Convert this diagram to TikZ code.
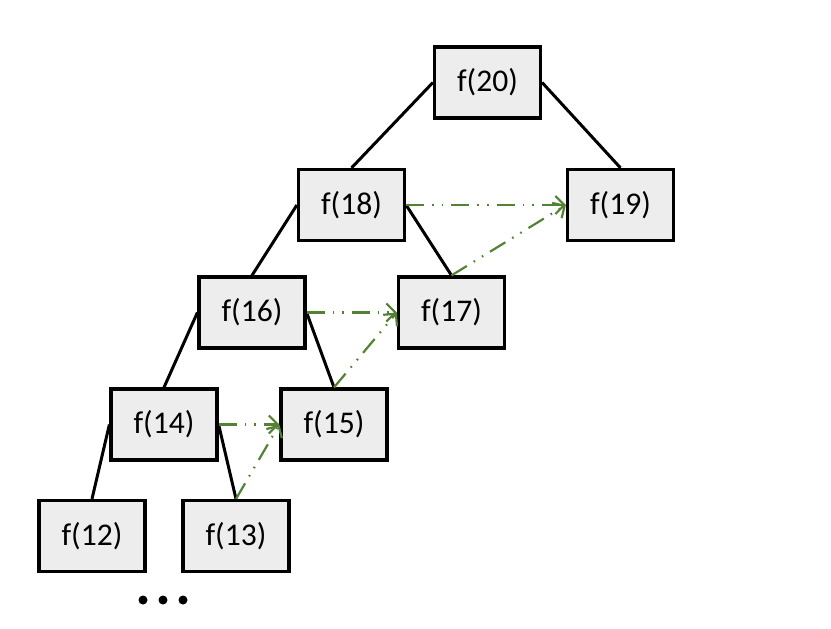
\documentclass[tikz,border=0pt]{standalone}
\usepackage{fontspec}
\setmainfont{Carlito}
\usetikzlibrary{arrows.meta}
\definecolor{boxgray}{RGB}{237,237,237}
\definecolor{memogreen}{RGB}{84,130,53}
\begin{document}
\begin{tikzpicture}[x=0.5pt, y=-0.5pt,
		callbox/.style={shape=rectangle, draw=black, fill=boxgray, line width=1.6pt,
			minimum width=53pt, minimum height=35.5pt, inner sep=0pt,
			font=\fontsize{15.8}{18}\selectfont},
		treeline/.style={line width=1.5pt, color=black},
		reuse/.style={-{Straight Barb[length=4.5pt, width=9pt]}, line width=1.1pt, color=memogreen,
			dash pattern=on 9pt off 4pt on 0.8pt off 4pt on 0.8pt off 4pt}]
			\useasboundingbox (0,0) rectangle (831,628);
			%Call tree:
			\path
				(487.5, 82.5) node[callbox] (f20) {f(20)}
				(351.5, 205) node[callbox] (f18) {f(18)}
				(620.5, 205) node[callbox] (f19) {f(19)}
				(252, 312.5) node[callbox] (f16) {f(16)}
				(451.5, 312.5) node[callbox] (f17) {f(17)}
				(164, 424.5) node[callbox] (f14) {f(14)}
				(334, 424.5) node[callbox] (f15) {f(15)}
				(92, 536) node[callbox] (f12) {f(12)}
				(236, 536) node[callbox] (f13) {f(13)};
			%Branches:
			\draw[treeline] (f20.west) -- (f18.north);
			\draw[treeline] (f20.east) -- (f19.north);
			\draw[treeline] (f18.west) -- (f16.north);
			\draw[treeline] (f18.east) -- (f17.north);
			\draw[treeline] (f16.west) -- (f14.north);
			\draw[treeline] (f16.east) -- (f15.north);
			\draw[treeline] (f14.west) -- (f12.north);
			\draw[treeline] (f14.east) -- (f13.north);
			%Reused results:
			\draw[reuse] (f18.east) -- (f19.west);
			\draw[reuse] (f17.north) -- (f19.west);
			\draw[reuse] (f16.east) -- (f17.west);
			\draw[reuse] (f15.north) -- (f17.west);
			\draw[reuse] (f14.east) -- (f15.west);
			\draw[reuse] (f13.north) -- (f15.west);
			%More calls:
			\path
				(143, 600) node[shape=circle, fill=black, inner sep=0pt, minimum size=4.5pt] (dot1) {}
				(163, 600) node[shape=circle, fill=black, inner sep=0pt, minimum size=4.5pt] (dot2) {}
				(183, 600) node[shape=circle, fill=black, inner sep=0pt, minimum size=4.5pt] (dot3) {};
\end{tikzpicture}
\end{document}
